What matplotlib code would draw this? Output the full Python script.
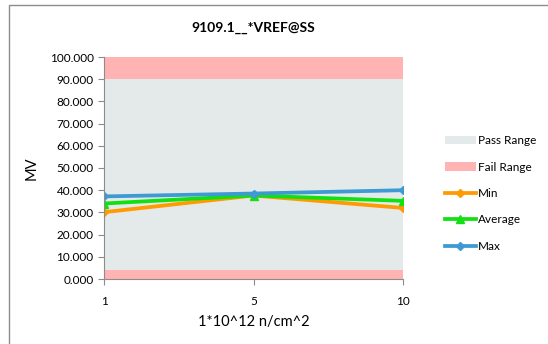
import matplotlib.pyplot as plt
from matplotlib.patches import Rectangle
from matplotlib.ticker import FormatStrFormatter

plt.rcParams['font.family'] = ['Lato', 'DejaVu Sans']

# data
fluence = ['1', '5', '10']
min_vals = [30.1, 37.6, 32.0]
avg_vals = [34.0, 37.6, 35.2]
max_vals = [37.2, 38.5, 40.0]
pass_range = (4.0, 90.0)
fail_low = (0.0, 4.0)
fail_high = (90.0, 100.0)

fig = plt.figure(figsize=(5.48, 3.44), dpi=100)
ax = fig.add_axes([104 / 548, 1 - 279 / 344, 299 / 548, 222 / 344])

# outer chart border (only top and left show in the crop)
fig.patches.append(Rectangle((9 / 548, -0.1), 1.0, 1 - 5 / 344 + 0.1,
                             transform=fig.transFigure, fill=False,
                             edgecolor='#8c8c8c', linewidth=1.0))

x = list(range(len(fluence)))
ax.axhspan(*pass_range, color='#e4eaea', lw=0, label='Pass Range')
ax.axhspan(*fail_high, color='#ffb3b3', lw=0, label='Fail Range')
ax.axhspan(*fail_low, color='#ffb3b3', lw=0)

ax.plot(x, min_vals, color='#ff9a00', lw=2.7, marker='D', ms=4.5, label='Min')
ax.plot(x, avg_vals, color='#13e013', lw=2.7, marker='^', ms=6, label='Average')
ax.plot(x, max_vals, color='#3d9ad2', lw=2.7, marker='D', ms=4.5, label='Max')

ax.set_xlim(0, len(fluence) - 1)
ax.set_ylim(0, 100)
ax.set_xticks(x)
ax.set_xticklabels(fluence)
ax.set_yticks(range(0, 101, 10))
ax.yaxis.set_major_formatter(FormatStrFormatter('%.3f'))
ax.tick_params(axis='both', colors='#8c8c8c', labelcolor='black', labelsize=8.5,
               length=4, direction='out')
ax.tick_params(axis='x', pad=8)
for side in ['top', 'right']:
    ax.spines[side].set_visible(False)
for side in ['left', 'bottom']:
    ax.spines[side].set_color('#8c8c8c')

ax.set_title('9109.1__*VREF@SS', fontsize=10, fontweight='bold', pad=18)
ax.set_ylabel('MV', fontsize=10.5, labelpad=8)
ax.set_xlabel('1*10^12 n/cm^2', fontsize=10.5, labelpad=6)

ax.legend(loc='center left', bbox_to_anchor=(1.125, 0.385), frameon=False,
          fontsize=8.5, handlelength=2.6, handletextpad=0.15, labelspacing=1.3,
          borderaxespad=0.0)

fig.savefig('out.png', dpi=100)
